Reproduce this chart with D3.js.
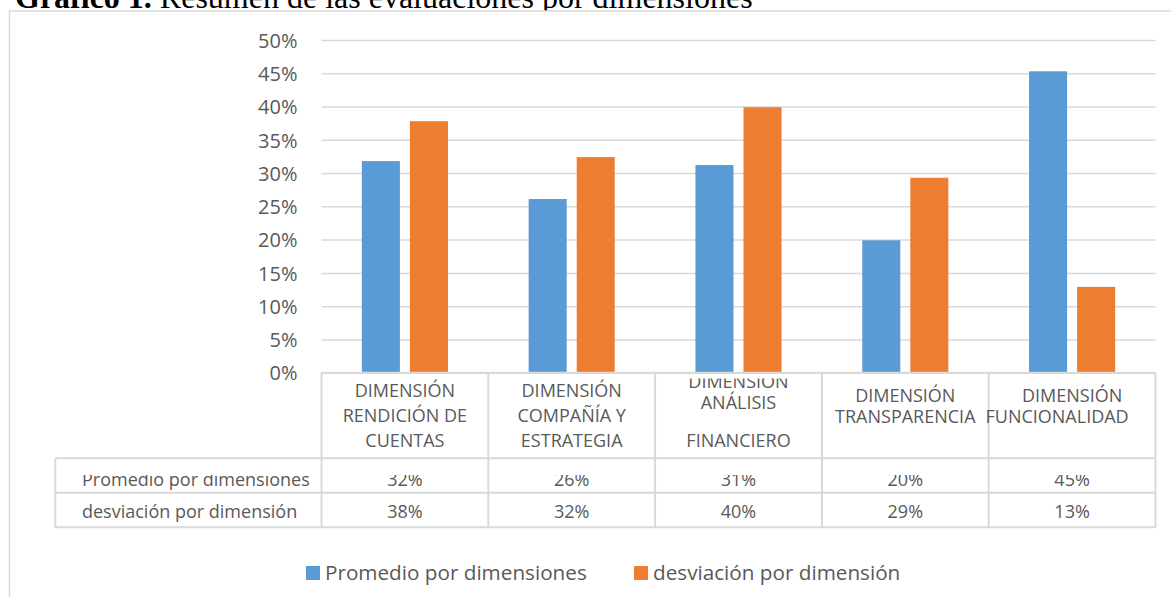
<!DOCTYPE html>
<html>
<head>
<meta charset="utf-8">
<script src="https://cdn.jsdelivr.net/npm/d3@7"></script>
<style>
  html, body { margin: 0; padding: 0; background: #ffffff; }
  svg { display: block; }
</style>
</head>
<body>
<script>
// ---------- data ----------
const categories = [
  "DIMENSIÓN\nRENDICIÓN DE\nCUENTAS",
  "DIMENSIÓN\nCOMPAÑÍA Y\nESTRATEGIA",
  "DIMENSIÓN\nANÁLISIS\n\nFINANCIERO",
  "DIMENSIÓN\nTRANSPARENCIA",
  "DIMENSIÓN\nFUNCIONALIDAD"
];
const seriesNames = ["Promedio por dimensiones", "desviación por dimensión"];
const promedio   = [0.318, 0.261, 0.312, 0.199, 0.453];
const desviacion = [0.378, 0.324, 0.399, 0.293, 0.129];
const yTicks = [0, 0.05, 0.10, 0.15, 0.20, 0.25, 0.30, 0.35, 0.40, 0.45, 0.50];
const titleBold = "Gráfico 1.";
const titleRest = " Resumen de las evaluaciones por dimensiones";
const colors = ["#5B9BD5", "#ED7D31"];

// ---------- layout ----------
const W = 1171, H = 597;
const plotL = 321.5, plotR = 1155.5, plotT = 40, plotB = 372.7;
const headerB = 458.3, row1B = 492.7, row2B = 527.3, tableL = 55.3;
const gridColor = "#d9d9d9", textColor = "#595959";
const sans = "'Open Sans', 'DejaVu Sans', sans-serif";

const svg = d3.select("body").append("svg").attr("width", W).attr("height", H);

// title (partially covered by the chart box, as in the source)
const title = svg.append("text")
  .attr("x", 15).attr("y", 7.5)
  .attr("font-family", "'Liberation Serif', 'Times New Roman', serif")
  .attr("font-size", 32).attr("fill", "#000");
title.append("tspan").attr("font-weight", "bold").text(titleBold);
title.append("tspan").text(titleRest);

// chart box
svg.append("rect")
  .attr("x", 9.5).attr("y", 11).attr("width", W + 20).attr("height", H + 20)
  .attr("fill", "#fff").attr("stroke", gridColor).attr("stroke-width", 1.5);

// scales
const y = d3.scaleLinear().domain([0, 0.5]).range([plotB, plotT]);
const x0 = d3.scaleBand().domain(categories).range([plotL, plotR]).paddingInner(0).paddingOuter(0);
const x1 = d3.scaleBand().domain(seriesNames).range([0, x0.bandwidth()])
  .paddingInner(0.2083).paddingOuter(0.8396);
const pct = d3.format(".0%");

// grid + y axis
const yAxis = d3.axisLeft(y).tickValues(yTicks).tickFormat(pct)
  .tickSize(-(plotR - plotL)).tickPadding(24);
const gy = svg.append("g").attr("transform", `translate(${plotL},0)`).call(yAxis);
gy.select(".domain").remove();
gy.selectAll(".tick line").attr("stroke", gridColor).attr("stroke-width", 1.5);
gy.selectAll(".tick text").attr("fill", textColor)
  .attr("font-family", sans).attr("font-size", 20).attr("dy", "0.36em");

// bars
const seriesVals = [promedio, desviacion];
seriesNames.forEach((s, si) => {
  svg.append("g").selectAll("rect").data(categories).join("rect")
    .attr("x", (c) => x0(c) + x1(s))
    .attr("width", x1.bandwidth())
    .attr("y", (c, i) => y(seriesVals[si][i]))
    .attr("height", (c, i) => plotB - y(seriesVals[si][i]))
    .attr("fill", colors[si]);
});

// table lines
const tg = svg.append("g").attr("stroke", gridColor).attr("stroke-width", 2).attr("fill", "none");
tg.append("line").attr("x1", plotL).attr("x2", plotR).attr("y1", plotB).attr("y2", plotB);
[headerB, row1B, row2B].forEach(yy => {
  tg.append("line").attr("x1", tableL).attr("x2", plotR).attr("y1", yy).attr("y2", yy);
});
const bounds = categories.map(c => x0(c)).concat([plotR]);
bounds.forEach(bx => {
  tg.append("line").attr("x1", bx).attr("x2", bx).attr("y1", plotB).attr("y2", row2B);
});
tg.append("line").attr("x1", tableL).attr("x2", tableL).attr("y1", headerB).attr("y2", row2B);

// clip paths
const defs = svg.append("defs");
defs.append("clipPath").attr("id", "clipHead").append("rect")
  .attr("x", 0).attr("y", 378.5).attr("width", W).attr("height", headerB - 378.5);
defs.append("clipPath").attr("id", "clipRow1").append("rect")
  .attr("x", 0).attr("y", 475).attr("width", W).attr("height", row1B - 475);

// header labels
const baselinesByCount = { 2: [29, 50], 3: [24.6, 49.6, 74.6], 4: [15.6, 36.6, 55.6, 74.6] };
const hg = svg.append("g").attr("clip-path", "url(#clipHead)")
  .attr("font-family", sans).attr("font-size", 18).attr("fill", textColor).attr("text-anchor", "middle");
categories.forEach((c, ci) => {
  const lines = c.split("\n");
  const bl = baselinesByCount[lines.length];
  const cx = x0(c) + x0.bandwidth() / 2;
  lines.forEach((ln, li) => {
    // the last column's long word overflows to the left in the source
    const dx = (ci === categories.length - 1 && li > 0) ? -15 : 0;
    hg.append("text").attr("x", cx + dx).attr("y", plotB + bl[li]).text(ln);
  });
});

// table rows
const rowBase = [486, 518];
seriesNames.forEach((s, si) => {
  const g = svg.append("g")
    .attr("font-family", sans).attr("font-size", 18).attr("fill", textColor);
  if (si === 0) g.attr("clip-path", "url(#clipRow1)");
  g.append("text").attr("x", 82).attr("y", rowBase[si]).text(s);
  g.selectAll("text.v").data(categories).join("text").attr("class", "v")
    .attr("text-anchor", "middle")
    .attr("x", c => x0(c) + x0.bandwidth() / 2)
    .attr("y", rowBase[si])
    .text((c, i) => pct(seriesVals[si][i]));
});

// legend
const legX = [306, 634];
const lg = svg.append("g").attr("font-family", sans).attr("font-size", 20.7).attr("fill", textColor);
seriesNames.forEach((s, si) => {
  lg.append("rect").attr("x", legX[si]).attr("y", 566).attr("width", 14).attr("height", 14).attr("fill", colors[si]);
  lg.append("text").attr("x", legX[si] + 19).attr("y", 580).text(s);
});
</script>
</body>
</html>
